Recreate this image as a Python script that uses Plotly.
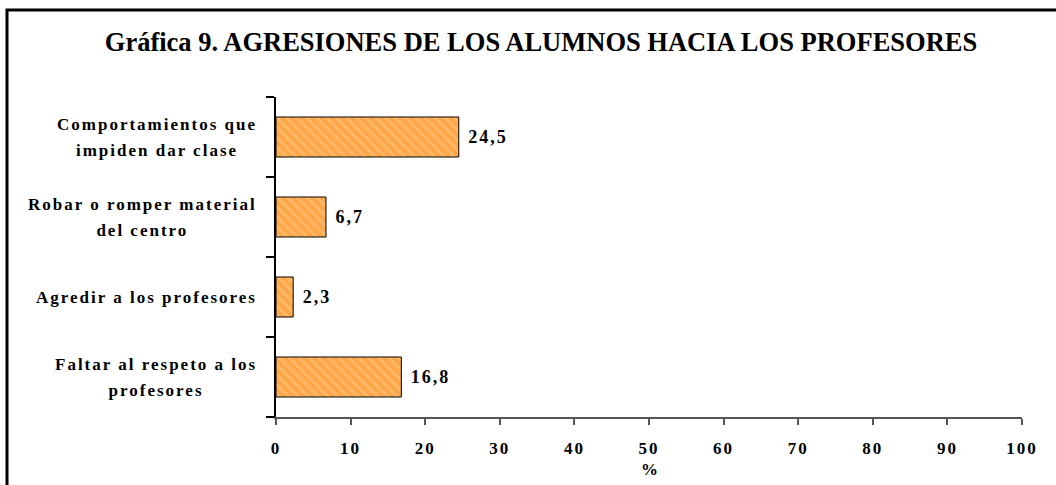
import plotly.graph_objects as go

categories = [
    "Comportamientos que<br>impiden dar clase",
    "Robar o romper material<br>del centro",
    "Agredir a los profesores",
    "Faltar al respeto a los<br>profesores",
]
values = [24.5, 6.7, 2.3, 16.8]
x_ticks = [0, 10, 20, 30, 40, 50, 60, 70, 80, 90, 100]
title_text = "Gráfica 9. AGRESIONES DE LOS ALUMNOS HACIA LOS PROFESORES"

FONT = "Liberation Serif"
SP = "letter-spacing:2px;font-size:17px"

fig = go.Figure()
fig.add_trace(go.Bar(
    y=list(range(len(categories))),
    x=values,
    orientation="h",
    width=0.5,
    marker=dict(
        color="#FFA646",
        line=dict(color="#000000", width=1),
        pattern=dict(shape="\\", fgcolor="#FFC98A", bgcolor="#FFA646", size=7, solidity=0.45),
    ),
    text=[f'<b><span style="letter-spacing:2px"> {str(v).replace(".", ",")}</span></b>' for v in values],
    textposition="outside",
    textfont=dict(family=FONT, size=18, color="#000000"),
    cliponaxis=False,
    hoverinfo="skip",
))

annotations = []
for i, c in enumerate(categories):
    annotations.append(dict(
        x=0, xref="paper", y=i, yref="y",
        xanchor="right", yanchor="middle", xshift=-17,
        align="center", showarrow=False,
        text=f'<b><span style="{SP}">' + c.replace("<br>", f'</span><br><span style="{SP}">') + "</span></b>",
        font=dict(family=FONT, size=20, color="#000000"),
    ))
annotations.append(dict(
    x=0.5, xref="paper", y=-0.165, yref="paper",
    xanchor="center", yanchor="middle", showarrow=False,
    text="<b>%</b>", font=dict(family=FONT, size=17, color="#000000"),
))

L, R, T, B = 276, 34, 97, 68
pw, ph = 1056 - L - R, 485 - T - B
fig.update_layout(
    width=1056, height=485,
    margin=dict(l=L, r=R, t=T, b=B),
    paper_bgcolor="white", plot_bgcolor="white",
    showlegend=False,
    title=dict(text=f"<b>{title_text}</b>", x=541 / 1056, xref="container", xanchor="center",
               y=1 - 42 / 485, yanchor="middle",
               font=dict(family=FONT, size=26.5, color="#000000")),
    xaxis=dict(
        range=[0, 100], tickvals=x_ticks,
        ticktext=[f'<b><span style="letter-spacing:2px">{t}</span></b>' for t in x_ticks],
        ticks="outside", ticklen=6, tickwidth=2, tickcolor="#555555",
        ticklabelstandoff=9,
        showline=True, linecolor="#555555", linewidth=2,
        showgrid=False, zeroline=False, fixedrange=True,
        tickfont=dict(family=FONT, size=17, color="#000000"),
    ),
    yaxis=dict(
        range=[3.5, -0.5],
        tickvals=[-0.5, 0.5, 1.5, 2.5, 3.5],
        showticklabels=False,
        ticks="outside", ticklen=8, tickwidth=1.5, tickcolor="#000000",
        showline=True, linecolor="#000000", linewidth=1.5,
        showgrid=False, zeroline=False, fixedrange=True,
    ),
    annotations=annotations,
    shapes=[dict(
        type="rect", xref="paper", yref="paper",
        x0=(7 - L) / pw, x1=(1070 - L) / pw,
        y0=(485 - 500 - B) / ph, y1=(485 - 10 - B) / ph,
        line=dict(color="#000000", width=3), fillcolor="rgba(0,0,0,0)", layer="below",
    )],
)

fig.write_html("out.html")
